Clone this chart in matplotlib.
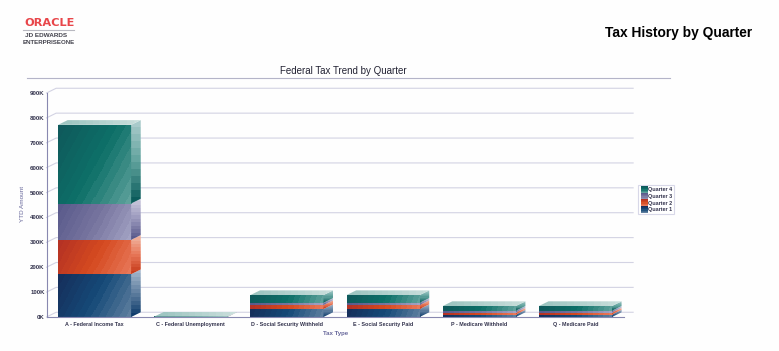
import numpy as np
import matplotlib
matplotlib.use("Agg")
import matplotlib.pyplot as plt
from matplotlib.colors import LinearSegmentedColormap
from matplotlib.patches import Polygon, Rectangle

plt.rcParams['font.family'] = ['Liberation Sans', 'DejaVu Sans']

categories = ["A - Federal Income Tax", "C - Federal Unemployment", "D - Social Security Withheld",
              "E - Social Security Paid", "P - Medicare Withheld", "Q - Medicare Paid"]
quarter_1 = [172000, 300, 32000, 32000, 10000, 10000]
quarter_2 = [138000, 300, 16000, 16000, 8000, 8000]
quarter_3 = [146000, 300, 9000, 9000, 7000, 7000]
quarter_4 = [316000, 600, 31000, 31000, 19000, 19000]
series_names = ["Quarter 1", "Quarter 2", "Quarter 3", "Quarter 4"]
y_ticks = [0, 100000, 200000, 300000, 400000, 500000, 600000, 700000, 800000, 900000]
y_tick_labels = ["0K", "100K", "200K", "300K", "400K", "500K", "600K", "700K", "800K", "900K"]

W, H = 779, 351
BG = '#fefefe'
GRID = '#d3d3e3'
AXIS = '#8888b0'
TEXT = '#33334d'
AXIS_TITLE = '#66669a'

# dark, mid, light for the front; light, mid, dark for the side
front_colors = [['#152f5c', '#154a78', '#5f7f9f'],
                ['#b53224', '#d54a20', '#e8795a'],
                ['#5a5a8c', '#77759f', '#a3a3c4'],
                ['#0f5a5c', '#0d7068', '#5fa29c']]
side_colors = [['#a4b6cc', '#5f7f9f', '#0f3c6c'],
               ['#f0b8a4', '#e8795a', '#c83c1c'],
               ['#cccade', '#9a98bc', '#5a5a8c'],
               ['#a8caca', '#5fa29c', '#0c5c5c']]
top_colors = ['#9cc4c0', '#c8dedb']

DEPTH_X = 0.1
DEPTH_Y = 19000
BAR_W = 0.76

fig = plt.figure(figsize=(W / 100, H / 100), dpi=100, facecolor=BG)
ax = fig.add_axes([46.5 / W, 1 - 317 / H, 577 / W, 224 / H])
ax.set_facecolor('none')
ax.set_xlim(0, 6)
ax.set_ylim(0, 900000)

px_x = 577 / 6
px_y = 224 / 900000


def shade(colors, steps=14):
    cmap = LinearSegmentedColormap.from_list('s', colors)
    return cmap(np.linspace(0, 1, steps))


def front_face(x0, x1, y0, y1, colors):
    w = max(int((x1 - x0) * px_x), 2)
    h = max(int((y1 - y0) * px_y), 2)
    xx, yy = np.meshgrid(np.arange(w), np.arange(h))
    t = (xx + 0.55 * yy) / (w + 0.55 * h)
    table = shade(colors)
    img = table[(t * len(table)).astype(int).clip(0, len(table) - 1)]
    ax.imshow(img, extent=(x0, x1, y0, y1), aspect='auto', origin='upper',
              zorder=3, interpolation='nearest')


def clipped_face(points, colors, vertical, zorder):
    xs = [p[0] for p in points]
    ys = [p[1] for p in points]
    table = shade(colors, 12)
    if vertical:
        img = table.reshape(-1, 1, 4)
    else:
        img = table.reshape(1, -1, 4)
    im = ax.imshow(img, extent=(min(xs), max(xs), min(ys), max(ys)), aspect='auto',
                   origin='upper', zorder=zorder, interpolation='nearest')
    patch = Polygon(points, closed=True, transform=ax.transData)
    im.set_clip_path(patch)


# back wall and floor grid
for tick in y_ticks:
    ax.plot([0, DEPTH_X, 6 + DEPTH_X], [tick, tick + DEPTH_Y, tick + DEPTH_Y],
            color=GRID, lw=0.8, clip_on=False, zorder=1, solid_joinstyle='miter')

series = [quarter_1, quarter_2, quarter_3, quarter_4]
positions = np.arange(len(categories)) + 0.5
bottoms = np.zeros(len(categories))
for s, values in enumerate(series):
    for i, pos in enumerate(positions):
        x0, x1 = pos - BAR_W / 2, pos + BAR_W / 2
        y0, y1 = bottoms[i], bottoms[i] + values[i]
        front_face(x0, x1, y0, y1, front_colors[s])
        clipped_face([(x1, y0), (x1 + DEPTH_X, y0 + DEPTH_Y),
                      (x1 + DEPTH_X, y1 + DEPTH_Y), (x1, y1)], side_colors[s], True, 3)
    bottoms = bottoms + np.array(values)

for i, pos in enumerate(positions):
    x0, x1 = pos - BAR_W / 2, pos + BAR_W / 2
    clipped_face([(x0, bottoms[i]), (x1, bottoms[i]), (x1 + DEPTH_X, bottoms[i] + DEPTH_Y),
                  (x0 + DEPTH_X, bottoms[i] + DEPTH_Y)], top_colors, False, 3)

ax.set_xlim(0, 6)
ax.set_ylim(0, 900000)

for side in ['top', 'right']:
    ax.spines[side].set_visible(False)
for side in ['left', 'bottom']:
    ax.spines[side].set_color(AXIS)
    ax.spines[side].set_linewidth(0.8)
    ax.spines[side].set_zorder(4)

ax.set_xticks(positions)
ax.set_xticklabels(categories)
ax.set_yticks(y_ticks)
ax.set_yticklabels(y_tick_labels)
ax.tick_params(axis='both', length=0, labelcolor=TEXT)
ax.tick_params(axis='x', pad=3.5, labelsize=3.9)
ax.tick_params(axis='y', pad=1.3, labelsize=4.4)
for label in ax.get_xticklabels() + ax.get_yticklabels():
    label.set_fontweight('bold')

# page furniture in pixel coordinates
page = fig.add_axes([0, 0, 1, 1], zorder=5)
page.set_xlim(0, W)
page.set_ylim(H, 0)
page.axis('off')

page.text(752, 33, "Tax History by Quarter", ha='right', va='center', fontsize=9.9,
          fontweight='bold', color='black')
page.text(343, 71, "Federal Tax Trend by Quarter", ha='center', va='center', fontsize=7.0,
          color='#222233')
page.plot([27, 670], [77.5, 77.5], color='#b4b4c8', lw=0.8)

page.text(49.5, 22.5, "ORACLE", ha='center', va='center', fontsize=8.2, fontweight='bold',
          color='#e8464a', family='DejaVu Sans')
page.plot([23, 74], [29.5, 29.5], color='#b8b8c0', lw=0.8)
page.text(46.5, 35.5, "JD EDWARDS", ha='center', va='center', fontsize=4.6, fontweight='bold',
          color='#44444e')
page.text(48.5, 42.5, "ENTERPRISEONE", ha='center', va='center', fontsize=4.4, fontweight='bold',
          color='#44444e')

page.text(23, 204, "YTD Amount", rotation=90, ha='center', va='center', fontsize=4.6,
          color=AXIS_TITLE)
page.text(336, 333.5, "Tax Type", ha='center', va='center', fontsize=4.4, fontweight='bold',
          color=AXIS_TITLE)

# legend
page.add_patch(Rectangle((638.5, 184.5), 36, 29.5, facecolor='white', edgecolor='#d8d8e8', lw=0.8))
legend_y = [190, 196.5, 203, 210]
for row, s in zip(legend_y, [3, 2, 1, 0]):
    swatch = shade(front_colors[s], 6).reshape(-1, 1, 4)
    page.imshow(swatch, extent=(641, 647.5, row + 3.2, row - 3.2), aspect='auto', zorder=3,
                interpolation='nearest')
    page.text(648.3, row, series_names[s], ha='left', va='center', fontsize=3.9,
              fontweight='bold', color=TEXT)
page.set_xlim(0, W)
page.set_ylim(H, 0)

fig.savefig('out.png', dpi=100, facecolor=BG)
